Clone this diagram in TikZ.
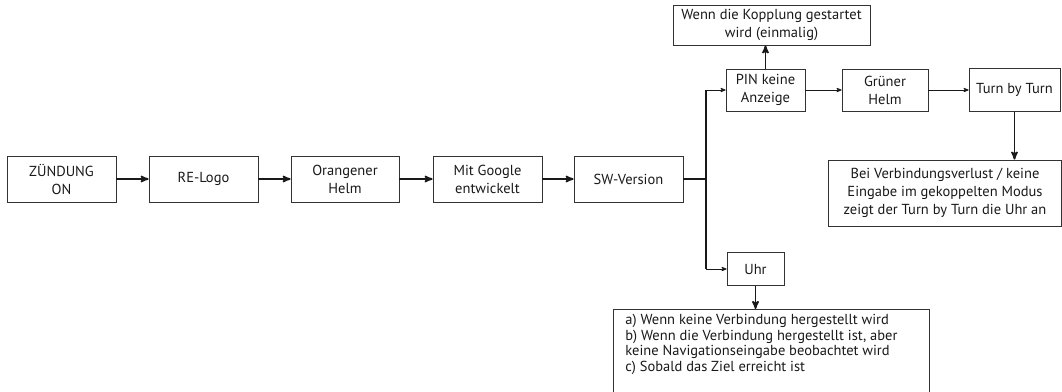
\documentclass[tikz,border=0pt]{standalone}
\usepackage{fontspec}
\setmainfont{PT Sans}
\usetikzlibrary{
    arrows,
    positioning
}

\begin{document}
\begin{tikzpicture}[x=1pt, y=-1pt,
    box/.style={draw=black!80, line width=0.8pt, align=center, inner sep=0pt,
        text=black!90, font=\fontsize{14.5}{18}\selectfont},
    thickline/.style={line width=1.7pt, black!90},
    thinline/.style={line width=0.8pt, black!90},
    >=stealth']
    \useasboundingbox (0,0) rectangle (1062,391);

    % main row
    \node[box, minimum width=109pt, minimum height=46pt] (zuend) at (61.5, 179) {ZÜNDUNG\\ON};
    \node[box, minimum width=109pt, minimum height=46pt] (logo) at (203.5, 179) {RE-Logo};
    \node[box, minimum width=108pt, minimum height=46pt] (orange) at (345, 179) {Orangener\\Helm};
    \node[box, minimum width=109pt, minimum height=46pt] (google) at (487.5, 179) {Mit Google\\entwickelt};
    \node[box, minimum width=109pt, minimum height=46pt] (swver) at (628.5, 179) {SW-Version};
    \coordinate (split) at (706, 179);

    % upper branch
    \node[box, minimum width=197pt, minimum height=40pt] (kopp) at (771.5, 25) {Wenn die Kopplung gestartet\\wird (einmalig)};
    \node[box, minimum width=79pt, minimum height=42pt] (pin) at (765.5, 90) {PIN keine\\Anzeige};
    \node[box, minimum width=86pt, minimum height=42pt] (gruen) at (885, 90) {Grüner\\Helm};
    \node[box, minimum width=91pt, minimum height=43pt] (turn) at (1014.5, 90) {Turn by Turn};
    \node[box, minimum width=233pt, minimum height=66pt] (verl) at (945, 193) {Bei Verbindungsverlust / keine\\Eingabe im gekoppelten Modus\\zeigt der Turn by Turn die Uhr an};

    % lower branch
    \node[box, minimum width=57pt, minimum height=33pt] (uhr) at (755.5, 269) {Uhr};
    \node[box, anchor=north west, inner xsep=12pt, inner ysep=5pt] (cases) at (613, 309)
        {\parbox[c][84pt][t]{292pt}{\fontsize{14.5}{15.5}\selectfont
        a) Wenn keine Verbindung hergestellt wird\\
        b) Wenn die Verbindung hergestellt ist, aber\\
        keine Navigationseingabe beobachtet wird\\
        c) Sobald das Ziel erreicht ist}};

    \draw[thickline]
    (zuend) edge[->] (logo)
    (logo) edge[->] (orange)
    (orange) edge[->] (google)
    (google) edge[->] (swver)
    (swver) -- (split)
    (split |- pin) -- (split |- uhr)
    (pin.north) edge[->] (pin.north |- kopp.south)
    (turn.south) edge[->] (turn.south |- verl.north)
    (uhr.south) edge[->] (uhr.south |- cases.north);

    \draw[thinline]
    (split |- pin) edge[->] (pin)
    (split |- uhr) edge[->] (uhr)
    (pin) edge[->] (gruen)
    (gruen) edge[->] (turn);
\end{tikzpicture}
\end{document}
